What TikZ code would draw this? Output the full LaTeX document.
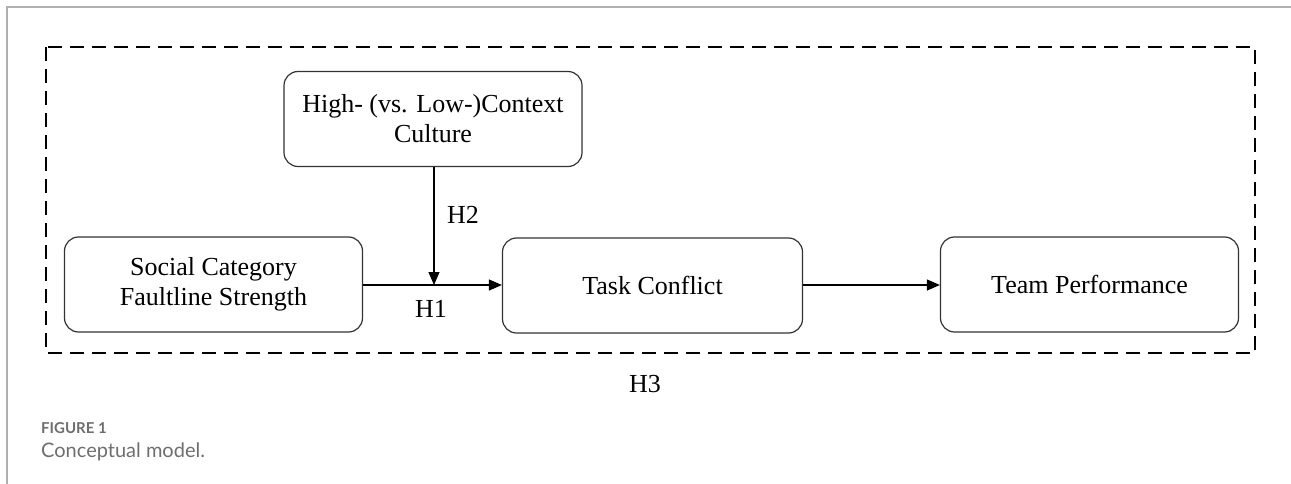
\documentclass[tikz,border=0pt]{standalone}
\usepackage{fontspec}
\setmainfont{Liberation Serif}
\newfontfamily\capfont{Lato}
\usetikzlibrary{arrows.meta}
\definecolor{framegray}{HTML}{B0B0B0}
\definecolor{capgray}{HTML}{6E6E6E}
\definecolor{boxline}{HTML}{333333}
\tikzset{
  varbox/.style={draw=boxline, line width=1.2pt, rounded corners=14pt,
    minimum width=298pt, minimum height=95pt, align=center, inner sep=0pt,
    font=\fontsize{26}{30}\selectfont},
  conn/.style={draw=black, line width=1.1pt, -{Triangle[length=13pt,width=11pt]}},
  hlabel/.style={anchor=base, inner sep=0pt, font=\fontsize{26}{30}\selectfont},
}
\begin{document}
\begin{tikzpicture}[x=1pt,y=-1pt]
\useasboundingbox (0,0) rectangle (1291,484);
% outer frame lines
\draw[framegray, line width=1.5pt] (7,484) -- (7,7) -- (1291,7);
% dashed grouping frame
\draw[black, line width=2pt, dash pattern=on 14pt off 8pt] (46,47) rectangle (1255,353);
% boxes
\node[varbox] (ctx) at (433,119) {High- (vs. Low-)Context\\Culture};
\node[varbox] (soc) at (213.5,284.5) {Social Category\\Faultline Strength};
\node[varbox, minimum width=300pt] (task) at (652.5,285.5) {Task Conflict};
\node[varbox] (perf) at (1089.5,284.5) {Team Performance};
% connectors
\coordinate (mod) at (434,285);
\draw[conn] (soc.east |- mod) -- (task.west |- mod);
\draw[conn] (ctx.south -| mod) -- (mod);
\draw[conn] (task.east |- mod) -- (perf.west |- mod);
% labels
\node[hlabel] (h2) at (463,223) {H2};
\node[hlabel] (h1) at (431,317) {H1};
\node[hlabel] (h3) at (645,392) {H3};
% caption
\node[anchor=base west, inner sep=0pt, text=capgray, font=\capfont\bfseries\fontsize{15}{18}\selectfont] (fig) at (41,433) {FIGURE 1};
\node[anchor=base west, inner sep=0pt, text=capgray, font=\capfont\fontsize{20}{24}\selectfont] (cap) at (41,457) {Conceptual model.};
\end{tikzpicture}
\end{document}
